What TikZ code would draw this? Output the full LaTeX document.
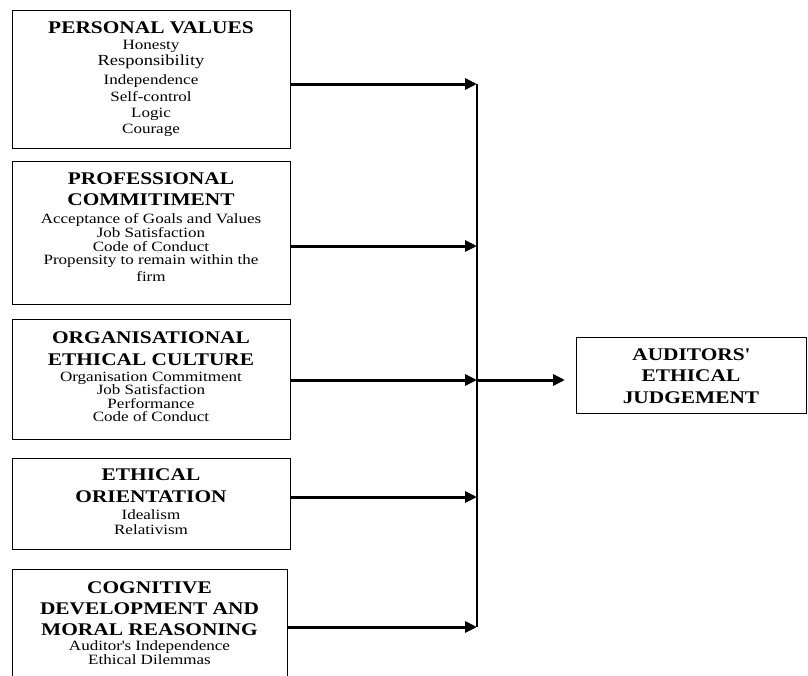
\documentclass[tikz,border=0pt]{standalone}
\usepackage{fontspec}
\setmainfont[FakeStretch=1.2]{Liberation Serif}
\usetikzlibrary{arrows.meta}
\newcommand\ttlfont{\fontsize{17.8}{20}\selectfont\bfseries}
\begin{document}
\begin{tikzpicture}[x=1pt,y=-1pt,
  box/.style={draw=black, line width=1pt, inner sep=0pt, anchor=north west},
  txt/.style={anchor=north, align=center, inner sep=0pt, text=black},
  conn/.style={line width=3pt, -{Triangle[length=12pt,width=11pt]}},
  bus/.style={line width=2.8pt}]
\path[use as bounding box] (0,0) rectangle (808,675);
\clip (0,0) rectangle (808,675);

% boxes
\node[box, minimum width=278pt, minimum height=138pt] (b1) at (12,10) {};
\node[box, minimum width=278pt, minimum height=143pt] (b2) at (12,161) {};
\node[box, minimum width=278pt, minimum height=120pt] (b3) at (12,319) {};
\node[box, minimum width=278pt, minimum height=91pt]  (b4) at (12,458) {};
\node[box, minimum width=275pt, minimum height=115pt] (b5) at (12,569) {};
\node[box, minimum width=230pt, minimum height=76pt]  (out) at (576,337) {};

% texts
\node[txt, font=\fontsize{14.2}{16}\selectfont] (t1) at (151,21.2)
  {{\ttlfont PERSONAL VALUES}\\
   Honesty\\
   {\fontsize{15.4}{16}\selectfont Responsibility}\\[3pt]
   Independence\\[1pt]
   Self-control\\
   Logic\\
   Courage};
\node[txt, font=\fontsize{14.2}{14}\selectfont] (t2) at (151,172.2)
  {{\ttlfont PROFESSIONAL}\\[7.7pt]
   {\ttlfont COMMITIMENT}\\[3.3pt]
   Acceptance of Goals and Values\\
   Job Satisfaction\\
   Code of Conduct\\[-0.5pt]
   Propensity to remain within the\\[3pt]
   firm};
\node[txt, font=\fontsize{14.2}{13.5}\selectfont] (t3) at (151,331.2)
  {{\ttlfont ORGANISATIONAL}\\[8.5pt]
   {\ttlfont ETHICAL CULTURE}\\[2.5pt]
   Organisation Commitment\\
   Job Satisfaction\\
   Performance\\
   Code of Conduct};
\node[txt, font=\fontsize{14.2}{15}\selectfont] (t4) at (151,468.2)
  {{\ttlfont ETHICAL}\\[7pt]
   {\ttlfont ORIENTATION}\\[2pt]
   Idealism\\
   Relativism};
\node[txt, font=\fontsize{14.2}{14.5}\selectfont] (t5) at (149.5,581.2)
  {{\ttlfont COGNITIVE}\\[6.5pt]
   {\ttlfont DEVELOPMENT AND}\\[6.5pt]
   {\ttlfont MORAL REASONING}\\[0.5pt]
   Auditor\textquotesingle s Independence\\[-0.5pt]
   Ethical Dilemmas};
\node[txt, font=\fontsize{17.8}{21.5}\selectfont\bfseries] (t6) at (691,348.2)
  {AUDITORS\textquotesingle\\
   ETHICAL\\
   JUDGEMENT};

% junction points on the bus
\coordinate (j1) at (477,84);
\coordinate (j2) at (477,246);
\coordinate (j3) at (477,380);
\coordinate (j4) at (477,497);
\coordinate (j5) at (477,627);

\draw[bus] (j1) -- (j5);
\draw[conn] (b1.east |- j1) -- (j1);
\draw[conn] (b2.east |- j2) -- (j2);
\draw[conn] (b3.east |- j3) -- (j3);
\draw[conn] (b4.east |- j4) -- (j4);
\draw[conn] (b5.east |- j5) -- (j5);
\draw[conn, shorten >=11pt] (j3) -- (out.west |- j3);
\end{tikzpicture}
\end{document}
